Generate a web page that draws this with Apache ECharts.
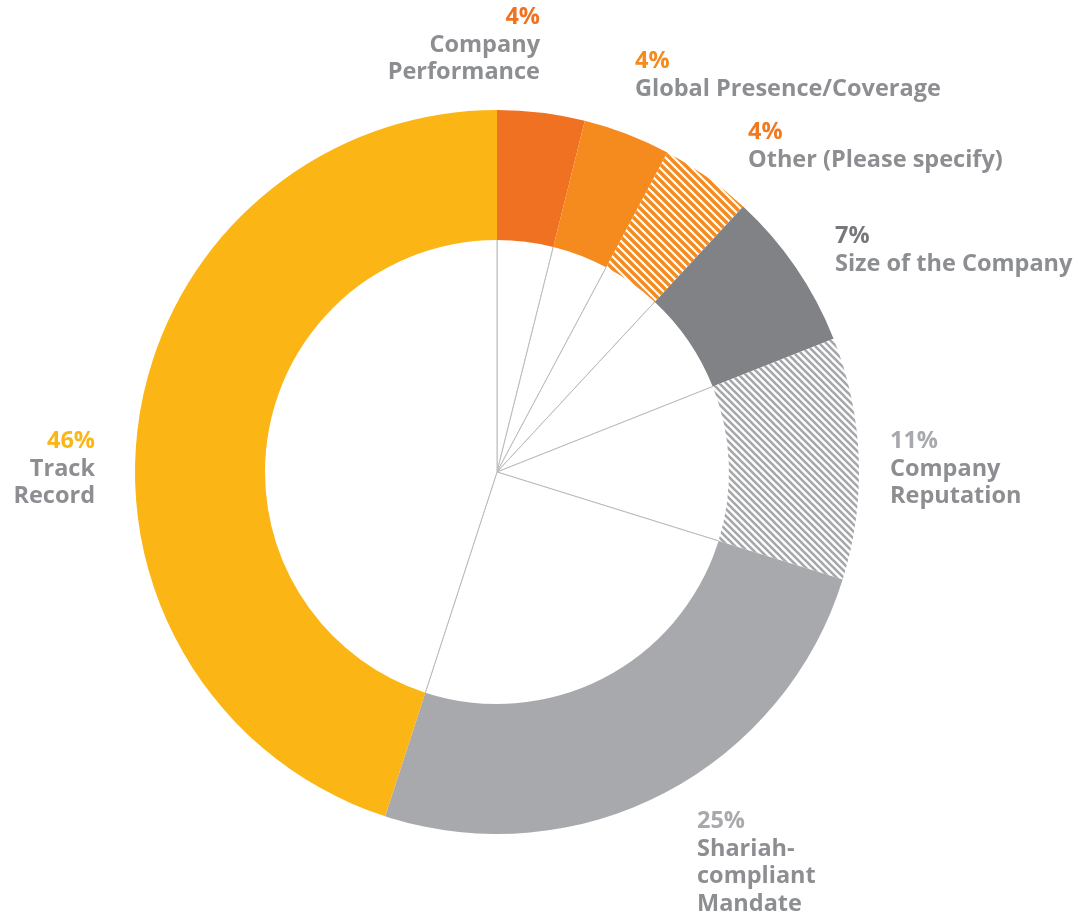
<!DOCTYPE html>
<html lang="en">
    <head>
        <meta charset="UTF-8" />
        <script src="https://cdn.jsdelivr.net/npm/echarts@6/dist/echarts.min.js"></script>
        <title>Selection criteria</title>
        <style>
            html, body { margin: 0; padding: 0; background: #fff; }
            #chart { width: 1078px; height: 914px; }
        </style>
    </head>
    <body>
        <div id="chart"></div>
        <script type="text/javascript">
            // data, clockwise from 12 o'clock
            var names = ["Company\nPerformance", "Global Presence/Coverage", "Other (Please specify)",
                "Size of the Company", "Company\nReputation", "Shariah-\ncompliant\nMandate", "Track\nRecord"];
            // printed percentages
            var percents = ["4%", "4%", "4%", "7%", "11%", "25%", "46%"];
            // slice shares as drawn (measured from the arc angles)
            var shares = [3.9, 3.9, 4.1, 7.1, 10.8, 25.2, 45.0];

            // styling per slice
            var fills = ["#f07122", "#f58a1f", "hatchOrange", "#808285", "hatchGray", "#a7a9ac", "#fbb515"];
            var pctColors = ["#f07122", "#f58a1f", "#f07a22", "#77787b", "#a7a9ac", "#a7a9ac", "#fbb515"];
            // label block: [x, top y, align]
            var labelPos = [[540, 4, "right"], [635, 48, "left"], [748, 119, "left"], [835, 223, "left"],
                [890, 428, "left"], [697, 808, "left"], [95, 428, "right"]];

            function hatch(color, size, width) {
                var c = document.createElement("canvas");
                c.width = size; c.height = size;
                var ctx = c.getContext("2d");
                ctx.fillStyle = "#fff";
                ctx.fillRect(0, 0, size, size);
                ctx.strokeStyle = color;
                ctx.lineWidth = width;
                for (var k = -1; k <= 1; k++) {
                    ctx.beginPath();
                    ctx.moveTo(k * size - 1, -1);
                    ctx.lineTo(k * size + size + 1, size + 1);
                    ctx.stroke();
                }
                return { image: c, repeat: "repeat" };
            }
            var patterns = {
                hatchOrange: hatch("#f58a1f", 8, 3.4),
                hatchGray: hatch("#a5a7aa", 7, 2.6)
            };

            var ringData = shares.map(function (v, i) {
                var f = fills[i];
                return {
                    value: v,
                    name: names[i],
                    itemStyle: { color: patterns[f] || f }
                };
            });
            var spokeData = shares.map(function (v, i) {
                return { value: v, name: names[i] };
            });

            var font = { fontFamily: "Open Sans", fontWeight: "bold", fontSize: 23.5, lineHeight: 27.5 };
            var rich = { n: Object.assign({ color: "#8c8e91" }, font) };
            pctColors.forEach(function (c, i) {
                rich["p" + i] = Object.assign({ color: c }, font);
            });

            var chart = echarts.init(document.getElementById("chart"));
            chart.setOption({
                animation: false,
                series: [
                    {
                        // thin radial lines inside the hole
                        type: "pie",
                        center: [497, 472],
                        radius: [0, 234],
                        startAngle: 90,
                        silent: true,
                        z: 1,
                        label: { show: false },
                        labelLine: { show: false },
                        itemStyle: { color: "#fff", borderColor: "#b9babc", borderWidth: 1 },
                        data: spokeData
                    },
                    {
                        type: "pie",
                        center: [497, 472],
                        radius: [232, 362],
                        startAngle: 90,
                        silent: true,
                        z: 2,
                        avoidLabelOverlap: false,
                        itemStyle: { borderWidth: 0 },
                        labelLine: { show: false },
                        label: Object.assign({
                            show: true,
                            position: "outside",
                            color: "#8c8e91",
                            formatter: function (p) {
                                var lines = p.name.split("\n").map(function (s) { return "{n|" + s + "}"; });
                                return "{p" + p.dataIndex + "|" + percents[p.dataIndex] + "}\n" + lines.join("\n");
                            },
                            rich: rich
                        }, font),
                        labelLayout: function (p) {
                            var lp = labelPos[p.dataIndex];
                            return { x: lp[0], y: lp[1], align: lp[2], verticalAlign: "top" };
                        },
                        data: ringData
                    }
                ]
            });
        </script>
    </body>
</html>
